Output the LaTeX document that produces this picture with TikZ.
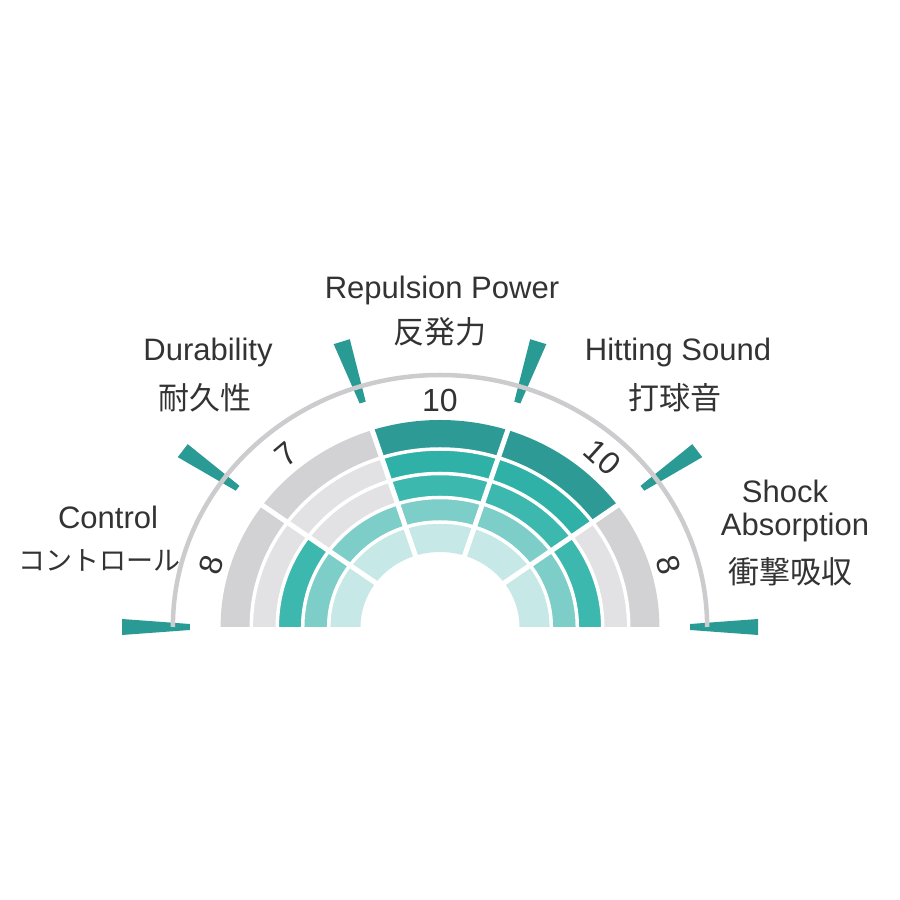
\documentclass[tikz,border=0pt]{standalone}
\usepackage{fontspec}
\setmainfont{Liberation Sans}
\newfontfamily\cjk{Noto Sans CJK JP}
\definecolor{ra}{HTML}{C6E8E7}
\definecolor{rb}{HTML}{7DCDC8}
\definecolor{rc}{HTML}{3DB8AF}
\definecolor{rd}{HTML}{2FB1A8}
\definecolor{re}{HTML}{2E9A96}
\definecolor{ga}{HTML}{E2E2E4}
\definecolor{gb}{HTML}{D2D2D4}
\definecolor{arcg}{HTML}{CCCCCE}
\definecolor{tickc}{HTML}{2A9A94}
\definecolor{txt}{HTML}{333333}
\tikzset{lab/.style={font=\fontsize{31}{34}\selectfont,text=txt,inner sep=0pt},
 jlab/.style={font=\cjk\fontsize{31}{34}\selectfont,text=txt,inner sep=0pt},
 num/.style={font=\fontsize{32}{34}\selectfont,text=txt,inner sep=0pt}}
\begin{document}
\begin{tikzpicture}[x=1pt,y=1pt]
\useasboundingbox (0,0) rectangle (900,900);
\fill[white] (0,0) rectangle (900,900);
\begin{scope}[shift={(440,273)},xscale=1.06]
\def\radii{{75,105,129.5,153.5,178,207}}
\foreach \a/\n in {144/3,108/2,72/5,36/5,0/3}{
  \foreach \k/\col/\gcol in {1/ra/ga,2/rb/ga,3/rc/ga,4/rd/ga,5/re/gb}{
    \pgfmathsetmacro\ri{\radii[\k-1]}
    \pgfmathsetmacro\ro{\radii[\k]}
    \pgfmathsetmacro\b{\a+36}
    \ifnum\k>\n \def\cc{\gcol}\else \def\cc{\col}\fi
    \fill[\cc] (\a:\ri) arc[start angle=\a,end angle=\b,radius=\ri] -- (\b:\ro) arc[start angle=\b,end angle=\a,radius=\ro] -- cycle;
  }
}
\foreach \r in {105,129.5,153.5,178}{\draw[white,line width=3.5] (0:\r) arc[start angle=0,end angle=180,radius=\r];}
\foreach \a in {36,72,108,144}{\draw[white,line width=5] (\a:70) -- (\a:215);}
\foreach \a in {0,36,72,108,144,180}{
  \fill[tickc,rotate=\a] (236,-3) -- (300,-8) -- (300,8) -- (236,3) -- cycle;}
\draw[arcg,line width=4.5] (0:252) arc[start angle=0,end angle=180,radius=252];
\node[num,rotate=74] (n1) at (164:224) {8};
\node[num,rotate=40] (n2) at (130:226) {7};
\node[num] (n3) at (90:227) {10};
\node[num,rotate=-42] (n4) at (48:229) {10};
\node[num,rotate=-74] (n5) at (16:224) {8};
\end{scope}
\node[lab] (rp) at (442,610) {Repulsion Power};
\node[jlab] (rpj) at (440,568) {反発力};
\node[lab] (du) at (208,548) {Durability};
\node[jlab] (duj) at (205,502) {耐久性};
\node[lab] (hs) at (678,548) {Hitting Sound};
\node[jlab] (hsj) at (675,502) {打球音};
\node[lab] (co) at (108,383) {Control};
\node[jlab,font=\cjk\fontsize{27}{30}\selectfont] (coj) at (100,340) {コントロール};
\node[lab] (sh) at (785,409) {Shock};
\node[lab] (ab) at (795,373) {Absorption};
\node[jlab] (shj) at (790,328) {衝撃吸収};
\end{tikzpicture}
\end{document}
